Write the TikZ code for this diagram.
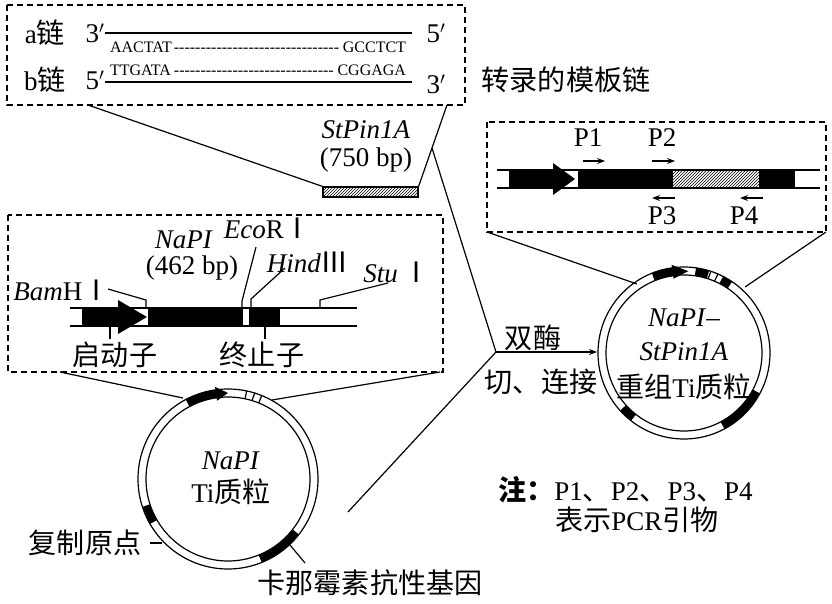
\documentclass[tikz,border=0pt]{standalone}
\usepackage{fontspec}
\setmainfont{Liberation Serif}
\newfontfamily\cjk{Noto Sans CJK SC}[Scale=1.04]
\usetikzlibrary{patterns,calc,arrows.meta}
\newcommand{\zh}[1]{{\cjk #1}}
\newcommand{\rmI}{{\cjk Ⅰ}}
\newcommand{\rmIII}{{\cjk Ⅲ}}
\begin{document}
\begin{tikzpicture}[x=1pt,y=-1pt,
  box/.style={line width=1.2pt,dash pattern=on 6pt off 4pt},
  ln/.style={line width=1.2pt},
  arr/.style={line width=1.2pt,-{Stealth[length=8pt,width=6pt]}},
  lab/.style={font=\fontsize{27}{29}\selectfont,inner sep=0pt},
  seq/.style={font=\fontsize{16}{18}\selectfont,inner sep=0pt},
  hatch/.style={pattern=north east lines,draw,line width=1.2pt}]
\useasboundingbox (0,0) rectangle (832,604);
% ---------- top box
\draw[box] (7,5) rectangle (465,105);
\node[lab] (a) at (45,33) {a\zh{链}};
\node[lab] (a3) at (95,33) {3$'$};
\node[lab] (a5) at (436,33) {5$'$};
\draw[ln] (105,33) -- (412,33);
\node[seq] (s1) at (258,47) {\makebox[296pt]{AACTAT\leaders\hbox{-}\hfill GCCTCT}};
\node[lab] (b) at (45,80) {b\zh{链}};
\node[lab] (b5) at (95,80) {5$'$};
\node[lab] (b3) at (436,84) {3$'$};
\draw[ln] (105,82) -- (412,82);
\node[seq] (s2) at (258,70) {\makebox[296pt]{TTGATA\leaders\hbox{-}\hfill CGGAGA}};
\node[lab] (tmpl) at (566,80) {\zh{转录的模板链}};
% hatched StPin1A
\node[draw,line width=1.2pt,pattern=north east lines,minimum width=95pt,minimum height=10pt,inner sep=0pt] (hr) at (370.5,192) {};
\node[lab] (st) at (366,130) {\textit{StPin1A}};
\node[lab] (stbp) at (366,160) {(750 bp)};
\draw[ln] (88,105) -- (hr.north west);
\draw[ln] (447,105) -- (hr.north east);
\coordinate (j) at (496,352);
\draw[ln] (432,148) -- (j);
\draw[ln] (j) -- (348,512);
% ---------- left box
\draw[box] (8,215) rectangle (443,372);
\draw[ln] (70,308) -- (357,308) (70,326) -- (357,326);
\fill (82,308) rectangle (120,326);
\fill (118,300) -- (147,317) -- (118,334) -- cycle;
\fill (148,307.5) rectangle (243,326.5);
\fill (249,307.5) rectangle (280,326.5);
\node[lab] at (62,290) {\textit{Bam}H\rmI};
\draw[ln] (108,289) -- (146,300) -- (146,308);
\node[lab] at (184,240) {\textit{NaPI}};
\node[lab] at (192,268) {(462 bp)};
\node[lab] at (268,228) {\textit{Eco}R\rmI};
\draw[ln] (256,247) -- (242,301) -- (242,308);
\node[lab] at (308,262) {\textit{Hind}\rmIII};
\draw[ln] (285,268) -- (251,299) -- (251,308);
\node[lab] at (397,272) {\textit{Stu}\,\rmI};
\draw[ln] (388,283) -- (320,300) -- (320,308);
\draw[ln] (110,326) -- (110,339);
\node[lab] at (115,355) {\zh{启动子}};
\draw[ln] (265,326) -- (265,339);
\node[lab] at (262,355) {\zh{终止子}};
% ---------- left circle
\coordinate (L) at (228,479);
\begin{scope}[y=1pt]
\draw[ln] (L) circle (90) (L) circle (82);
\draw[line width=8pt] (L) ++(118:86) arc (118:97:86);
\fill ($(L)+(98:93)$) -- ($(L)+(90:86)$) -- ($(L)+(98:79)$) -- cycle;
\draw[ln] (L) ++(78:82) -- ++(78:8) (L) ++(73:82) -- ++(70:8) (L) ++(68:82) -- ++(68:8);
\draw[line width=8pt] (L) ++(198:86) arc (198:210:86);
\draw[line width=8pt] (L) ++(-38:86) arc (-38:-68:86);
\end{scope}
\draw[ln] (60,372) -- (183,398);
\draw[ln] (440,372) -- (272,400);
\node[lab] at (231,461) {\textit{NaPI}};
\node[lab] at (231,492) {Ti\zh{质粒}};
\node[lab] at (85,543) {\zh{复制原点}};
\draw[ln] (150,543) -- (162,543);
\draw[ln] (290,545) -- (305,563);
\node[lab] at (370,583) {\zh{卡那霉素抗性基因}};
% ---------- right box
\draw[box] (487,122) rectangle (826,232);
\draw[ln] (497,170) -- (820,170) (497,188) -- (820,188);
\fill (509,170) rectangle (555,188);
\fill (553,163) -- (575,179) -- (553,195) -- cycle;
\fill (578,169.5) rectangle (672,188.5);
\draw[hatch] (672,170) rectangle (760,188);
\fill (760,169.5) rectangle (795,188.5);
\node[lab] at (588,138) {P1};
\draw[arr] (583,161) -- (605,161);
\node[lab] at (662,138) {P2};
\draw[arr] (652,161) -- (675,161);
\draw[arr] (675,198) -- (652,198);
\node[lab] at (662,216) {P3};
\draw[arr] (763,198) -- (740,198);
\node[lab] at (744,216) {P4};
% ---------- right circle
\coordinate (R) at (684,353);
\begin{scope}[y=1pt]
\draw[ln] (R) circle (86) (R) circle (78);
\draw[line width=8pt] (R) ++(112:82) arc (112:97:82);
\fill ($(R)+(98:89)$) -- ($(R)+(87:82)$) -- ($(R)+(98:75)$) -- cycle;
\draw[line width=8pt] (R) ++(82:82) arc (82:73:82);
\draw[ln] (R) ++(72:78) -- ++(70:8) (R) ++(67:78) -- ++(64:8);
\draw[line width=8pt] (R) ++(63:82) arc (63:56:82);
\draw[line width=8pt] (R) ++(222:82) arc (222:232:82);
\draw[line width=8pt] (R) ++(-28:82) arc (-28:-62:82);
\end{scope}
\draw[ln] (487,232) -- (637,284);
\draw[ln] (826,232) -- (745,287);
\node[lab] at (684,318) {\textit{NaPI}–};
\node[lab] at (684,352) {\textit{StPin1A}};
\node[lab] at (684,387) {\zh{重组}Ti\zh{质粒}};
\draw[arr] (j) -- (597,352);
\node[lab] at (533,338) {\zh{双酶}};
\node[lab] at (541,382) {\zh{切、连接}};
% ---------- note
\node[lab,anchor=west] at (498,490) {{\cjk\bfseries 注：}P1\zh{、}P2\zh{、}P3\zh{、}P4};
\node[lab,anchor=west] at (555,520) {\zh{表示}PCR\zh{引物}};
\end{tikzpicture}
\end{document}
